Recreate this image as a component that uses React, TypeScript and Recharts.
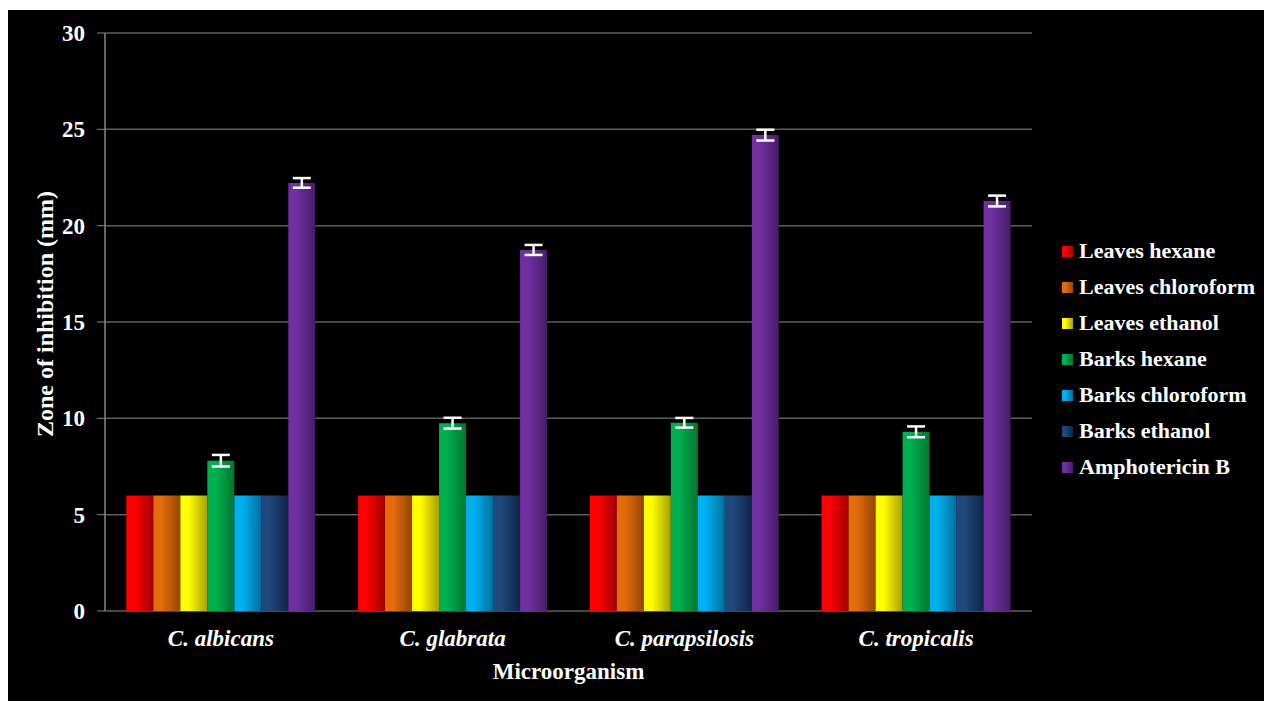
import { BarChart, Bar, XAxis, YAxis, CartesianGrid, ErrorBar } from 'recharts';

const categories = ['C. albicans', 'C. glabrata', 'C. parapsilosis', 'C. tropicalis'];

const leavesHexane = [6, 6, 6, 6];
const leavesChloroform = [6, 6, 6, 6];
const leavesEthanol = [6, 6, 6, 6];
const barksHexane = [7.8, 9.75, 9.77, 9.3];
const barksHexaneErr = [0.3, 0.28, 0.25, 0.28];
const barksChloroform = [6, 6, 6, 6];
const barksEthanol = [6, 6, 6, 6];
const amphotericinB = [22.22, 18.74, 24.7, 21.28];
const amphotericinBErr = [0.25, 0.26, 0.28, 0.28];

const yTicks = [0, 5, 10, 15, 20, 25, 30];
const boundaryTicks = [0, 1, 2, 3, 4];

const SERIES = [
    { key: 'leavesHexane', name: 'Leaves hexane', light: '#ff0000', dark: '#a00000' },
    { key: 'leavesChloroform', name: 'Leaves chloroform', light: '#e46c0a', dark: '#944507' },
    { key: 'leavesEthanol', name: 'Leaves ethanol', light: '#ffff00', dark: '#a8a000' },
    { key: 'barksHexane', name: 'Barks hexane', light: '#00b050', dark: '#00752f' },
    { key: 'barksChloroform', name: 'Barks chloroform', light: '#00b0f0', dark: '#006f9c' },
    { key: 'barksEthanol', name: 'Barks ethanol', light: '#1f497d', dark: '#0e2546' },
    { key: 'amphotericinB', name: 'Amphotericin B', light: '#7030a0', dark: '#461c68' },
];

const ERRORS: Record<string, string> = {
    barksHexane: 'barksHexaneErr',
    amphotericinB: 'amphotericinBErr',
};

const data = categories.map((name, i) => ({
    name,
    leavesHexane: leavesHexane[i],
    leavesChloroform: leavesChloroform[i],
    leavesEthanol: leavesEthanol[i],
    barksHexane: barksHexane[i],
    barksHexaneErr: barksHexaneErr[i],
    barksChloroform: barksChloroform[i],
    barksEthanol: barksEthanol[i],
    amphotericinB: amphotericinB[i],
    amphotericinBErr: amphotericinBErr[i],
}));

const FONT = '"Times New Roman", "Liberation Serif", serif';
const AXIS_GRAY = '#868686';
const GRID_GRAY = '#5e5e5e';

// plot area inside the black panel: x 97..1024, y 23..601
const XTitle = ({ viewBox }: any) => {
    const cx = viewBox.x + viewBox.width / 2;
    return (
        <text x={cx} y={661} textAnchor="middle" dominantBaseline="central" fill="#fff" fontSize={23} fontWeight="bold" fontFamily={FONT}>
            Microorganism
        </text>
    );
};

const YTitle = () => {
    const cy = 304;
    return (
        <text
            x={37}
            y={cy}
            transform={`rotate(-90, 37, ${cy})`}
            textAnchor="middle"
            dominantBaseline="central"
            fill="#fff"
            fontSize={24}
            fontWeight="bold"
            fontFamily={FONT}
        >
            Zone of inhibition (mm)
        </text>
    );
};

export default function App() {
    return (
        <div
            style={{
                position: 'absolute',
                left: 8,
                top: 10,
                width: 1256,
                height: 691,
                background: '#000',
                fontFamily: FONT,
            }}
        >
            <BarChart
                width={1256}
                height={691}
                data={data}
                margin={{ top: 23, right: 232, bottom: 30, left: 37 }}
                barCategoryGap="9.2%"
                barGap={0}
            >
                <defs>
                    {SERIES.map((s) => (
                        <linearGradient key={s.key} id={`grad-${s.key}`} x1="0" y1="0" x2="1" y2="0">
                            <stop offset="0%" stopColor={s.light} />
                            <stop offset="30%" stopColor={s.light} />
                            <stop offset="100%" stopColor={s.dark} />
                        </linearGradient>
                    ))}
                </defs>
                <CartesianGrid vertical={false} stroke={GRID_GRAY} strokeWidth={1.5} />
                <XAxis
                    xAxisId="bounds"
                    type="number"
                    domain={[0, 4]}
                    ticks={boundaryTicks}
                    tick={false}
                    tickSize={7}
                    tickLine={{ stroke: AXIS_GRAY }}
                    axisLine={{ stroke: AXIS_GRAY, strokeWidth: 1.5 }}
                    height={0}
                />
                <XAxis
                    dataKey="name"
                    tickLine={false}
                    axisLine={false}
                    height={60}
                    tickMargin={13}
                    tick={{ fill: '#fff', fontSize: 23, fontWeight: 'bold', fontStyle: 'italic', fontFamily: FONT }}
                    label={<XTitle />}
                />
                <YAxis
                    domain={[0, 30]}
                    ticks={yTicks}
                    width={60}
                    tickSize={8}
                    tickMargin={12}
                    tickLine={{ stroke: AXIS_GRAY }}
                    axisLine={{ stroke: AXIS_GRAY, strokeWidth: 1.5 }}
                    tick={{ fill: '#fff', fontSize: 23, fontWeight: 'bold', fontFamily: FONT }}
                    label={<YTitle />}
                />
                {SERIES.map((s) => (
                    <Bar key={s.key} dataKey={s.key} name={s.name} fill={`url(#grad-${s.key})`} isAnimationActive={false}>
                        {ERRORS[s.key] && (
                            <ErrorBar dataKey={ERRORS[s.key]} width={9} strokeWidth={2.5} stroke="#fff" />
                        )}
                    </Bar>
                ))}
            </BarChart>

            <ul
                style={{
                    position: 'absolute',
                    left: 1054,
                    top: 223,
                    margin: 0,
                    padding: 0,
                    listStyle: 'none',
                }}
            >
                {SERIES.map((s) => (
                    <li
                        key={s.key}
                        style={{
                            height: 36,
                            display: 'flex',
                            alignItems: 'center',
                            color: '#fff',
                            fontSize: 22,
                            fontWeight: 'bold',
                            whiteSpace: 'nowrap',
                        }}
                    >
                        <span
                            style={{
                                width: 11,
                                height: 11,
                                marginRight: 6,
                                flexShrink: 0,
                                background: `linear-gradient(to right, ${s.light} 30%, ${s.dark})`,
                            }}
                        />
                        {s.name}
                    </li>
                ))}
            </ul>
        </div>
    );
}
